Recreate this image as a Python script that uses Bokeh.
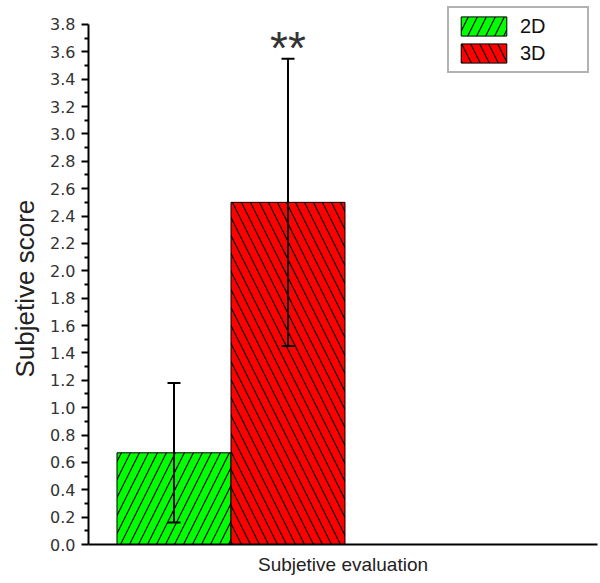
from bokeh.plotting import figure
from bokeh.models import Range1d, ColumnDataSource, Whisker, TeeHead, Legend, LegendItem, FixedTicker, PrintfTickFormatter, Title
from bokeh.core.properties import value
from bokeh.embed import file_html
from bokeh.resources import INLINE

groups = ["2D", "3D"]
means = [0.67, 2.50]
errors = [0.51, 1.05]
colors = ["#00ff00", "#ff0000"]
hatches = ["/", "\\"]
y_ticks = [0.0, 0.2, 0.4, 0.6, 0.8, 1.0, 1.2, 1.4, 1.6, 1.8, 2.0, 2.2, 2.4, 2.6, 2.8, 3.0, 3.2, 3.4, 3.6, 3.8]
sig_label = "**"
y_title = "Subjetive score"
x_title = "Subjetive evaluation"

xs = [0, 1]
lower = [m - e for m, e in zip(means, errors)]
upper = [m + e for m, e in zip(means, errors)]

p = figure(width=600, height=583, output_backend="svg", toolbar_location=None,
           x_range=Range1d(-0.75, 3.715), y_range=Range1d(0, 3.953),
           min_border_left=88, min_border_right=3, min_border_top=3, min_border_bottom=39)
p.frame_width = 509
p.frame_height = 541
p.outline_line_color = None
p.grid.grid_line_color = None
p.background_fill_color = "white"

renderers = []
for i in range(2):
    src = ColumnDataSource(dict(x=[xs[i]], top=[means[i]]))
    r = p.vbar(x="x", top="top", bottom=0, width=1.0, source=src,
               fill_color=colors[i], line_color="black", line_width=1,
               hatch_pattern=hatches[i], hatch_color="black", hatch_scale=18, hatch_weight=1.2)
    renderers.append(r)

wsrc = ColumnDataSource(dict(x=xs, lower=lower, upper=upper))
w = Whisker(base="x", lower="lower", upper="upper", source=wsrc, level="overlay",
            line_color="black", line_width=2,
            upper_head=TeeHead(size=13, line_width=2, line_color="black"),
            lower_head=TeeHead(size=13, line_width=2, line_color="black"))
p.add_layout(w)

p.text(x=[xs[1]], y=[upper[1]], text=[sig_label], text_align="center", text_baseline="alphabetic",
       y_offset=-11, text_font=value("Liberation Sans"), text_font_size="46px", text_color="#333333")

# axes
yax = p.yaxis[0]
yax.ticker = FixedTicker(ticks=y_ticks, minor_ticks=[round(0.1 + 0.2 * k, 2) for k in range(19)])
yax.formatter = PrintfTickFormatter(format="%.1f")
yax.bounds = (0, 3.8)
yax.axis_line_width = 2
yax.axis_line_color = "black"
yax.major_tick_line_width = 2
yax.major_tick_in = 0
yax.major_tick_out = 7
yax.minor_tick_in = 0
yax.minor_tick_out = 4
yax.minor_tick_line_width = 2
yax.major_label_text_font = "DejaVu Sans"
yax.major_label_text_font_size = "16px"
yax.major_label_text_color = "#333333"
yax.major_label_standoff = 6

# y axis title, placed along the 0..3.8 span
ytitle = Title(text=y_title, align="left", offset=167,
               text_font="Liberation Sans", text_font_size="26px",
               text_font_style="normal", text_color="#222222", standoff=15)
p.add_layout(ytitle, "left")

xax = p.xaxis[0]
xax.ticker = FixedTicker(ticks=[])
xax.axis_line_width = 2
xax.axis_line_color = "black"
xax.major_tick_line_color = None
xax.minor_tick_line_color = None
xax.axis_label = x_title
xax.axis_label_text_font = "Liberation Sans"
xax.axis_label_text_font_size = "19px"
xax.axis_label_text_font_style = "normal"
xax.axis_label_text_color = "#222222"
xax.axis_label_standoff = 9

legend = Legend(items=[LegendItem(label=groups[i], renderers=[renderers[i]]) for i in range(2)],
                location=(359, 471), glyph_width=57, glyph_height=24, spacing=3,
                label_text_font="Liberation Sans", label_text_font_size="20px",
                label_text_color="#111111", border_line_color="#666666", border_line_width=2,
                padding=6, margin=0, label_standoff=8, label_width=61, label_height=24)
p.add_layout(legend)

open("out.html", "w").write(file_html(p, INLINE))
